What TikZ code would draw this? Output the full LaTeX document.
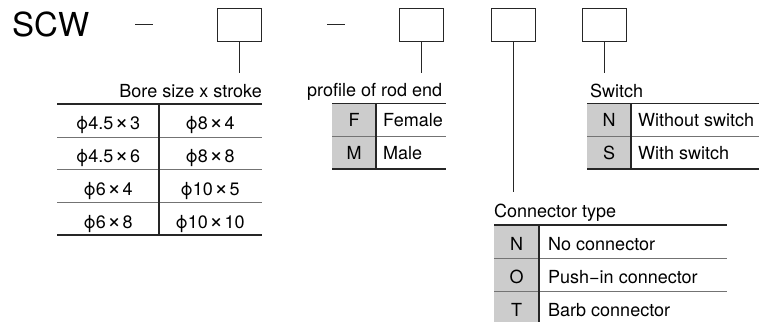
\documentclass[tikz,border=0pt]{standalone}
\usepackage{fontspec}
\setmainfont{TeX Gyre Heros}
\usetikzlibrary{positioning}
\newcommand{\bymark}{\hspace{1.5pt}\raisebox{-0.6pt}{\scalebox{1.3}{×}}\hspace{1.5pt}}

\begin{document}
\begin{tikzpicture}[
    x=1pt, y=-1pt,
    line/.style={draw=black!85, line width=0.8pt},
    thickrule/.style={draw=black!85, line width=1.7pt},
    thinrule/.style={draw=black!55, line width=0.8pt},
    slot/.style={draw=black!85, line width=0.8pt, minimum width=44pt, minimum height=33pt, inner sep=0pt},
    title/.style={font=\fontsize{18}{21}\selectfont, inner sep=0pt, anchor=base west},
    cell/.style={font=\fontsize{18}{21}\selectfont, inner sep=0pt, anchor=base},
    desc/.style={font=\fontsize{18}{21}\selectfont, inner sep=0pt, anchor=base west},
    code/.style={fill=black!20, draw=none}
]
    \useasboundingbox (0,0) rectangle (759,321);

    % model code
    \node[anchor=base west, font=\fontsize{33}{38}\selectfont, inner sep=0pt] (scw) at (12,37) {SCW};
    \draw[line] (135,24) -- (153,24);
    \draw[line] (327,24) -- (345,24);

    \node[slot] (bore)   at (239,24.5) {};
    \node[slot] (rodend) at (421,24.5) {};
    \node[slot] (conn)   at (513,24.5) {};
    \node[slot] (switch) at (604.5,24.5) {};

    \coordinate (boreend)   at (239,73);
    \coordinate (rodendend) at (421,73);
    \coordinate (connend)   at (513,192);
    \coordinate (switchend) at (604.5,73);

    \draw[line] (bore.south) -- (boreend);
    \draw[line] (rodend.south) -- (rodendend);
    \draw[line] (conn.south) -- (connend);
    \draw[line] (switch.south) -- (switchend);

    % bore size x stroke
    \node[title, anchor=base east] (boretitle) at (262,97) {Bore size x stroke};
    \foreach \y in {137,169,202}
        \draw[thinrule] (57,\y) -- (262,\y);
    \draw[thickrule] (57,104) -- (262,104);
    \draw[thickrule] (57,235) -- (262,235);
    \draw[thickrule] (159,104) -- (159,235);
    \foreach \a/\b [count=\i] in {4.5/3, 4.5/6, 6/4, 6/8}
        \node[cell] (borel\i) at (108,{96+33*\i}) {ϕ\a\bymark\b};
    \foreach \a/\b [count=\i] in {8/4, 8/8, 10/5, 10/10}
        \node[cell] (borer\i) at (210,{96+33*\i}) {ϕ\a\bymark\b};

    % profile of rod end
    \node[title] (rodtitle) at (307,96) {profile of rod end};
    \fill[code] (332,103.5) rectangle (376,169);
    \draw[thinrule] (332,136) -- (446,136);
    \draw[thickrule] (332,103.5) -- (446,103.5);
    \draw[thickrule] (332,169) -- (446,169);
    \draw[thickrule] (376,103.5) -- (376,169);
    \node[cell] (rodf) at (354,126) {F};
    \node[cell] (rodm) at (354,159) {M};
    \node[desc] (rodfd) at (383,126) {Female};
    \node[desc] (rodmd) at (383,159) {Male};

    % switch
    \node[title] (swtitle) at (590,97) {Switch};
    \fill[code] (587,103.5) rectangle (631,169);
    \draw[thinrule] (587,136) -- (759,136);
    \draw[thickrule] (587,103.5) -- (759,103.5);
    \draw[thickrule] (587,169) -- (759,169);
    \draw[thickrule] (631,103.5) -- (631,169);
    \node[cell] (swn) at (609,126) {N};
    \node[cell] (sws) at (609,159) {S};
    \node[desc] (swnd) at (638,126) {Without switch};
    \node[desc] (swsd) at (638,159) {With switch};

    % connector type
    \node[title] (conntitle) at (494,217) {Connector type};
    \fill[code] (494,225) rectangle (539,322);
    \draw[thinrule] (494,258) -- (727,258);
    \draw[thinrule] (494,291) -- (727,291);
    \draw[thickrule] (494,225) -- (727,225);
    \draw[thickrule] (539,225) -- (539,322);
    \foreach \c/\d [count=\i] in {N/No connector, O/Push−in connector, T/Barb connector} {
        \node[cell] (conn\c) at (516.5,{217+33*\i}) {\c};
        \node[desc] (conn\c d) at (548,{217+33*\i}) {\d};
    }
\end{tikzpicture}
\end{document}
